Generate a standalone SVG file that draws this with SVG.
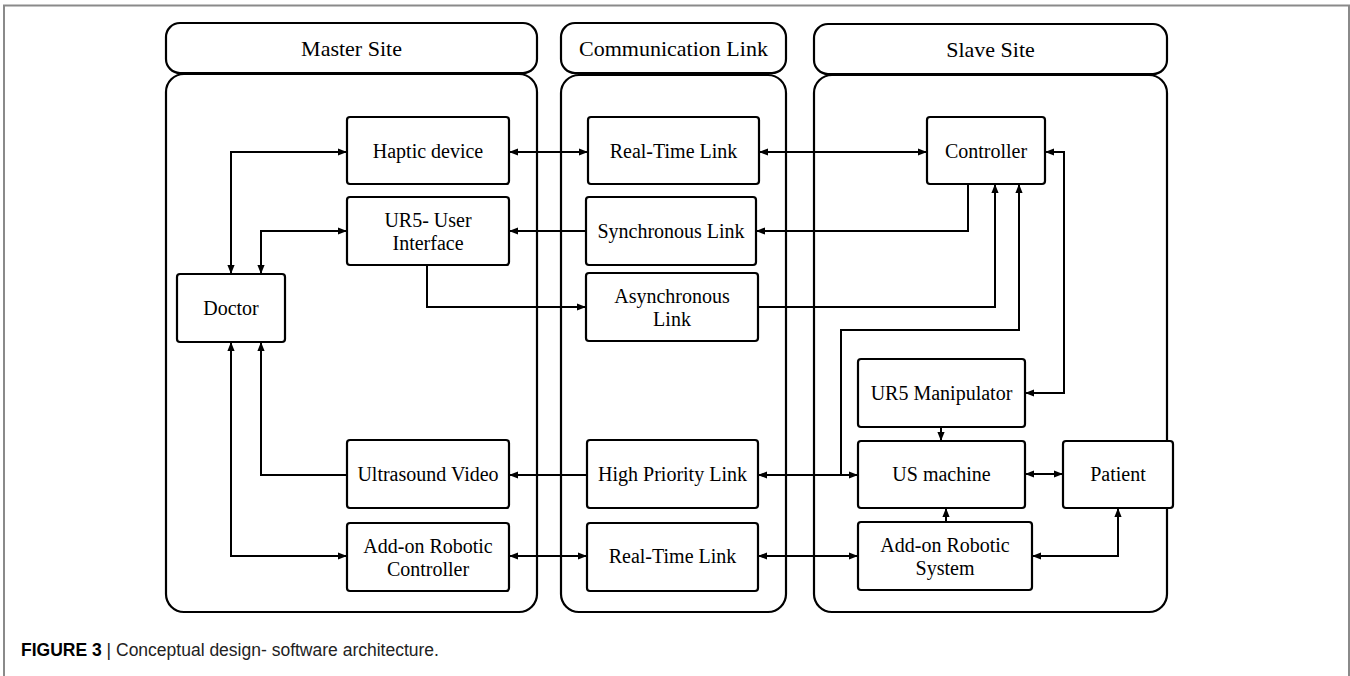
<svg xmlns="http://www.w3.org/2000/svg" width="1350" height="676" viewBox="0 0 1350 676">
<style>
.frame{fill:none;stroke:#8a8a8a;stroke-width:2}
.grp{fill:#fff;stroke:#000;stroke-width:2.2}
.box{fill:#fff;stroke:#000;stroke-width:2.2}
.t{font-family:"Liberation Serif","Times New Roman",serif;font-size:20px;fill:#000;text-anchor:middle}
.h{font-family:"Liberation Serif","Times New Roman",serif;font-size:22px;fill:#000;text-anchor:middle}
.c{fill:none;stroke:#000;stroke-width:2}
.cap{font-family:"Liberation Sans",Arial,sans-serif;font-size:17.5px;fill:#222}
</style>
<defs>
<marker id="a" viewBox="0 0 10 10" refX="10" refY="5" markerWidth="4.5" markerHeight="4.5" orient="auto-start-reverse" markerUnits="strokeWidth">
<path d="M0,1 L10,5 L0,9 z" fill="#000"/>
</marker>
</defs>
<rect width="1350" height="676" fill="#fff"/>
<path class="frame" d="M4,676 V5.5 H1349 V676"/>

<g id="master-site">
<rect class="grp" x="166" y="23" width="371" height="50" rx="14"/>
<text class="h" x="351.5" y="56">Master Site</text>
<rect class="grp" x="166" y="74" width="371" height="538" rx="18"/>
</g>
<g id="communication-link">
<rect class="grp" x="561" y="23" width="225" height="50" rx="14"/>
<text class="h" x="673.5" y="56">Communication Link</text>
<rect class="grp" x="561" y="75" width="225" height="537" rx="18"/>
</g>
<g id="slave-site">
<rect class="grp" x="814" y="24" width="353" height="50" rx="14"/>
<text class="h" x="990.5" y="57">Slave Site</text>
<rect class="grp" x="814" y="75" width="353" height="537" rx="18"/>
</g>

<g id="connectors">
<path class="c" d="M231,274 V152 H347" marker-start="url(#a)" marker-end="url(#a)"/>
<path class="c" d="M509,152 H588" marker-start="url(#a)" marker-end="url(#a)"/>
<path class="c" d="M759,152 H927" marker-start="url(#a)" marker-end="url(#a)"/>
<path class="c" d="M1045,152 H1064 V393 H1025" marker-start="url(#a)" marker-end="url(#a)"/>
<path class="c" d="M347,231 H261 V274" marker-start="url(#a)" marker-end="url(#a)"/>
<path class="c" d="M586,231 H509" marker-end="url(#a)"/>
<path class="c" d="M968,184 V231 H756" marker-end="url(#a)"/>
<path class="c" d="M427,265 V307 H586" marker-end="url(#a)"/>
<path class="c" d="M758,307 H995 V184" marker-end="url(#a)"/>
<path class="c" d="M841,475 V330 H1019 V184" marker-end="url(#a)"/>
<path class="c" d="M758,475 H858" marker-start="url(#a)" marker-end="url(#a)"/>
<path class="c" d="M587,475 H509" marker-end="url(#a)"/>
<path class="c" d="M347,475 H261 V342" marker-end="url(#a)"/>
<path class="c" d="M231,342 V556 H347" marker-start="url(#a)" marker-end="url(#a)"/>
<path class="c" d="M509,556 H587" marker-start="url(#a)" marker-end="url(#a)"/>
<path class="c" d="M758,556 H858" marker-start="url(#a)" marker-end="url(#a)"/>
<path class="c" d="M941,427 V441" marker-end="url(#a)"/>
<path class="c" d="M946,522 V508" marker-end="url(#a)"/>
<path class="c" d="M1025,474 H1063" marker-start="url(#a)" marker-end="url(#a)"/>
<path class="c" d="M1032,556 H1118 V508" marker-start="url(#a)" marker-end="url(#a)"/>
</g>

<g id="haptic-device"><rect class="box" x="347" y="117" width="162" height="67" rx="3"/><text class="t" x="428" y="158">Haptic device</text></g>
<g id="real-time-link-top"><rect class="box" x="588" y="117" width="171" height="67" rx="3"/><text class="t" x="673.5" y="158">Real-Time Link</text></g>
<g id="controller"><rect class="box" x="927" y="117" width="118" height="67" rx="3"/><text class="t" x="986" y="158">Controller</text></g>
<g id="ur5-user-interface"><rect class="box" x="347" y="197" width="162" height="68" rx="3"/><text class="t" x="428" y="227">UR5- User</text><text class="t" x="428" y="250">Interface</text></g>
<g id="doctor"><rect class="box" x="177" y="274" width="108" height="68" rx="3"/><text class="t" x="231" y="315">Doctor</text></g>
<g id="synchronous-link"><rect class="box" x="586" y="197" width="170" height="68" rx="3"/><text class="t" x="671" y="238">Synchronous Link</text></g>
<g id="asynchronous-link"><rect class="box" x="586" y="273" width="172" height="68" rx="3"/><text class="t" x="672" y="303">Asynchronous</text><text class="t" x="672" y="326">Link</text></g>
<g id="ur5-manipulator"><rect class="box" x="858" y="359" width="167" height="68" rx="3"/><text class="t" x="941.5" y="400">UR5 Manipulator</text></g>
<g id="ultrasound-video"><rect class="box" x="347" y="440" width="162" height="68" rx="3"/><text class="t" x="428" y="481">Ultrasound Video</text></g>
<g id="add-on-robotic-controller"><rect class="box" x="347" y="523" width="162" height="68" rx="3"/><text class="t" x="428" y="553">Add-on Robotic</text><text class="t" x="428" y="576">Controller</text></g>
<g id="high-priority-link"><rect class="box" x="587" y="440" width="171" height="68" rx="3"/><text class="t" x="672.5" y="481">High Priority Link</text></g>
<g id="real-time-link-bottom"><rect class="box" x="587" y="523" width="171" height="68" rx="3"/><text class="t" x="672.5" y="563">Real-Time Link</text></g>
<g id="us-machine"><rect class="box" x="858" y="441" width="167" height="67" rx="3"/><text class="t" x="941.5" y="481">US machine</text></g>
<g id="patient"><rect class="box" x="1063" y="441" width="110" height="67" rx="3"/><text class="t" x="1118" y="481">Patient</text></g>
<g id="add-on-robotic-system"><rect class="box" x="858" y="522" width="174" height="68" rx="3"/><text class="t" x="945" y="552">Add-on Robotic</text><text class="t" x="945" y="575">System</text></g>

<text class="cap" x="21" y="656"><tspan font-weight="bold" fill="#000">FIGURE 3</tspan> | Conceptual design- software architecture.</text>
</svg>
